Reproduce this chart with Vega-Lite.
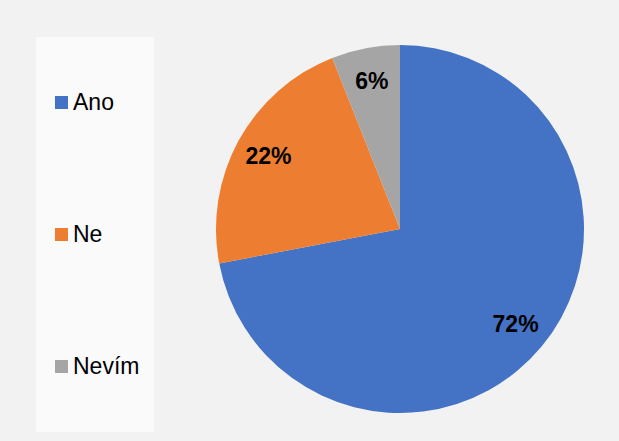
{
  "$schema": "https://vega.github.io/schema/vega-lite/v6.json",
  "width": 368,
  "height": 368,
  "autosize": "none",
  "padding": {"left": 216, "top": 45, "right": 35, "bottom": 28},
  "background": "#f2f2f2",
  "data": {
    "values": [
      {"kat": "Ano", "podil": 0.72},
      {"kat": "Ne", "podil": 0.22},
      {"kat": "Nevím", "podil": 0.06}
    ]
  },
  "encoding": {
    "theta": {"field": "podil", "type": "quantitative", "stack": true},
    "order": {"field": "podil", "type": "quantitative", "sort": "descending"}
  },
  "layer": [
    {
      "mark": {"type": "arc"},
      "encoding": {
        "color": {
          "field": "kat",
          "type": "nominal",
          "scale": {"domain": ["Ano", "Ne", "Nevím"], "range": ["#4472C4", "#ED7D31", "#A5A5A5"]},
          "legend": {
            "orient": "none",
            "legendX": -180,
            "legendY": -8,
            "title": "\u00a0",
            "titleFontSize": 35,
            "titlePadding": 5,
            "fillColor": "#fafafa",
            "padding": 14,
            "labelFont": "Liberation Sans",
            "labelFontSize": 23,
            "labelColor": "black",
            "symbolType": "M-1,-1H1V1H-1Z M0,7.846L0,7.846",
            "symbolSize": 169,
            "symbolStrokeWidth": 0,
            "symbolOpacity": 1,
            "rowPadding": 69,
            "labelOffset": 0
          }
        }
      }
    },
    {
      "mark": {"type": "text", "radius": 150, "font": "Liberation Sans", "fontSize": 23, "fontWeight": "bold", "color": "black"},
      "encoding": {
        "detail": {"field": "kat", "type": "nominal"},
        "text": {"field": "podil", "type": "quantitative", "format": ".0%"}
      }
    }
  ],
  "config": {"view": {"stroke": null}}
}
